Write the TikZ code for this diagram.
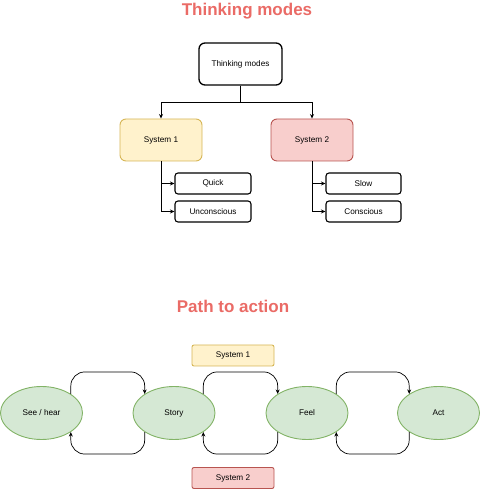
\documentclass[tikz,border=0pt]{standalone}
\usepackage{fontspec}
\setmainfont{Liberation Sans}
\usetikzlibrary{arrows.meta, shapes.geometric}
\definecolor{titlered}{HTML}{EA6B66}
\definecolor{yelfill}{HTML}{FFF2CC}
\definecolor{yeldraw}{HTML}{D6B656}
\definecolor{redfill}{HTML}{F8CECC}
\definecolor{reddraw}{HTML}{B85450}
\definecolor{grnfill}{HTML}{D5E8D4}
\definecolor{grndraw}{HTML}{82B366}
\tikzset{
  box/.style={draw, rounded corners=3pt, line width=1.1pt, font=\fontsize{8.2}{10}\selectfont},
  mode/.style={rounded corners=6pt, line width=0.9pt, minimum width=82pt, minimum height=42pt},
  tag/.style={draw, rounded corners=2pt, line width=0.9pt, minimum width=82pt, minimum height=21pt, font=\fontsize{8.2}{10}\selectfont},
  state/.style={ellipse, draw=grndraw, fill=grnfill, line width=0.9pt, minimum width=82pt, minimum height=53pt, inner sep=0pt, font=\fontsize{8.2}{10}\selectfont},
  heading/.style={text=titlered, font=\fontsize{17}{20}\selectfont\bfseries},
  arr/.style={-{Stealth[length=4.5pt,width=4pt]}, line width=0.7pt},
  loop/.style={arr, rounded corners=14pt}
}
\begin{document}
\begin{tikzpicture}[x=1pt, y=1pt]
    \useasboundingbox (0,0) rectangle (480,489);
    % thinking modes
    \node [heading] (title1) at (247,478) {Thinking modes};
    \node [box, rounded corners=6pt, line width=1.3pt, minimum width=83pt, minimum height=42pt] (tm) at (240.5,425) {Thinking modes};
    \node [box, mode, draw=yeldraw, fill=yelfill] (s1) at (161,349) {System 1};
    \node [box, mode, draw=reddraw, fill=redfill] (s2) at (312,349) {System 2};
    \node [box, minimum width=76pt, minimum height=21pt] (quick) at (213,305.5) {Quick};
    \node [box, minimum width=76pt, minimum height=21pt] (uncon) at (213,277.5) {Unconscious};
    \node [box, minimum width=75pt, minimum height=21pt] (slow) at (363.5,305.5) {Slow};
    \node [box, minimum width=75pt, minimum height=21pt] (con) at (363.5,277.5) {Conscious};
    \draw [arr] (tm.south) -- ++(0,-17) -| (s1.north);
    \draw [arr] (tm.south) -- ++(0,-17) -| (s2.north);
    \draw [arr] (s1.south) |- (quick.west);
    \draw [arr] (s1.south) |- (uncon.west);
    \draw [arr] (s2.south) |- (slow.west);
    \draw [arr] (s2.south) |- (con.west);
    % path to action
    \node [heading] (title2) at (233,183) {Path to action};
    \node [tag, draw=yeldraw, fill=yelfill] (fast) at (233,133.5) {System 1};
    \node [tag, draw=reddraw, fill=redfill] (slowtag) at (233,11) {System 2};
    \node [state] (see) at (41.5,76) {See / hear};
    \node [state] (story) at (174,76) {Story};
    \node [state] (feel) at (307,76) {Feel};
    \node [state] (act) at (438.5,76) {Act};
    \draw [loop] (see.north east) -- ++(0,22) -| (story.north west);
    \draw [loop] (story.north east) -- ++(0,22) -| (feel.north west);
    \draw [loop] (feel.north east) -- ++(0,22) -| (act.north west);
    \draw [loop] (story.south west) -- ++(0,-22) -| (see.south east);
    \draw [loop] (feel.south west) -- ++(0,-22) -| (story.south east);
    \draw [loop] (act.south west) -- ++(0,-22) -| (feel.south east);
\end{tikzpicture}
\end{document}
